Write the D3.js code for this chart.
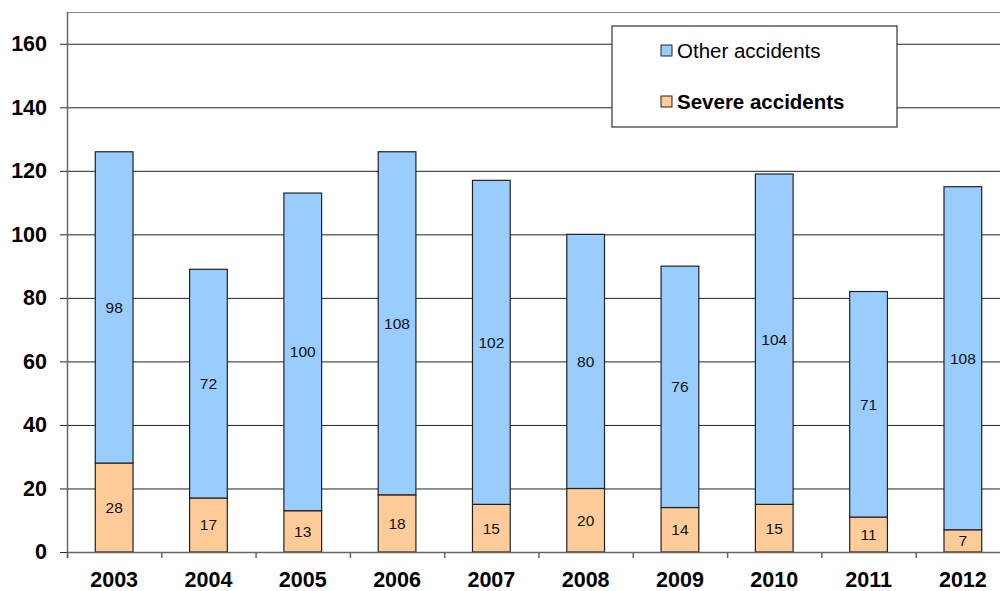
<!DOCTYPE html>
<html>
<head>
<meta charset="utf-8">
<script src="https://cdn.jsdelivr.net/npm/d3@7"></script>
<style>
  body { margin: 0; background: #fff; }
  svg { display: block; font-family: "Liberation Sans", Arial, sans-serif; }
</style>
</head>
<body>
<div id="chart"></div>
<script>
const years = ["2003", "2004", "2005", "2006", "2007", "2008", "2009", "2010", "2011", "2012"];
const severe = [28, 17, 13, 18, 15, 20, 14, 15, 11, 7];
const other = [98, 72, 100, 108, 102, 80, 76, 104, 71, 108];
const yTicks = [0, 20, 40, 60, 80, 100, 120, 140, 160];

const svgWidth = 1000, svgHeight = 591;
const margins = {left: 67, top: 12, right: -10, bottom: 39};
const width = svgWidth - margins.left - margins.right,
    height = svgHeight - margins.top - margins.bottom;

const svg = d3.select("#chart").append("svg")
    .attr("width", svgWidth)
    .attr("height", svgHeight);

const g = svg.append("g")
    .attr("transform", `translate(${margins.left}, ${margins.top})`);

const x = d3.scaleBand().domain(years).range([0, width]).paddingInner(0.6).paddingOuter(0.3);
const y = d3.scaleLinear().domain([0, 170]).range([height, 0]);

// top border of plot
g.append("line")
    .attr("x1", 0).attr("x2", width)
    .attr("y1", 0.5).attr("y2", 0.5)
    .attr("stroke", "#888").attr("stroke-width", 1);

// gridlines + y axis
const yAxis = g.append("g")
    .call(d3.axisLeft(y).tickValues(yTicks).tickSize(-width - 7).tickPadding(20).tickFormat(d3.format("d")));
yAxis.select(".domain").remove();
yAxis.selectAll(".tick line")
    .attr("x1", -7)
    .attr("stroke", "#222");
yAxis.selectAll(".tick text")
    .attr("font-size", 21.5).attr("font-weight", "bold").attr("fill", "#000")
    .attr("font-family", "Liberation Sans, Arial, sans-serif");

g.append("line")
    .attr("x1", 0.5).attr("x2", 0.5)
    .attr("y1", 0).attr("y2", height + 6)
    .attr("stroke", "#666").attr("stroke-width", 1.5);

// bars
const bars = g.selectAll(".year")
    .data(years)
    .enter().append("g")
    .attr("class", "year")
    .attr("transform", d => `translate(${x(d)}, 0)`);

bars.append("rect")
    .attr("y", (d, i) => y(severe[i]))
    .attr("height", (d, i) => y(0) - y(severe[i]))
    .attr("width", x.bandwidth())
    .attr("fill", "#FFCC99").attr("stroke", "#222").attr("stroke-width", 1.2);

bars.append("rect")
    .attr("y", (d, i) => y(severe[i] + other[i]))
    .attr("height", (d, i) => y(severe[i]) - y(severe[i] + other[i]))
    .attr("width", x.bandwidth())
    .attr("fill", "#99CCFF").attr("stroke", "#222").attr("stroke-width", 1.2);

bars.append("text")
    .attr("x", x.bandwidth() / 2)
    .attr("y", (d, i) => y(severe[i] / 2))
    .attr("dy", "0.35em")
    .attr("text-anchor", "middle")
    .attr("font-size", 15.5).attr("fill", "#111")
    .text((d, i) => severe[i]);

bars.append("text")
    .attr("x", x.bandwidth() / 2)
    .attr("y", (d, i) => y(severe[i] + other[i] / 2))
    .attr("dy", "0.35em")
    .attr("text-anchor", "middle")
    .attr("font-size", 15.5).attr("fill", "#111")
    .text((d, i) => other[i]);

// x axis
const step = x.step();
const xAxis = g.append("g").attr("transform", `translate(0, ${height})`);
xAxis.append("line")
    .attr("x1", 0).attr("x2", width)
    .attr("y1", 0.5).attr("y2", 0.5)
    .attr("stroke", "#666").attr("stroke-width", 1.5);
xAxis.selectAll(".tk")
    .data(d3.range(years.length + 1))
    .enter().append("line")
    .attr("x1", i => i * step + 0.5).attr("x2", i => i * step + 0.5)
    .attr("y1", 0).attr("y2", 6)
    .attr("stroke", "#666").attr("stroke-width", 1.5);
xAxis.selectAll(".lbl")
    .data(years)
    .enter().append("text")
    .attr("x", d => x(d) + x.bandwidth() / 2)
    .attr("y", 35)
    .attr("text-anchor", "middle")
    .attr("font-size", 21.5).attr("font-weight", "bold").attr("fill", "#000")
    .text(d => d);

// legend
const legend = svg.append("g").attr("transform", "translate(612, 26)");
legend.append("rect")
    .attr("width", 285).attr("height", 101)
    .attr("fill", "#fff").attr("stroke", "#333").attr("stroke-width", 1.2);
const legendItems = [
    {label: "Other accidents", color: "#99CCFF", bold: false, y: 25},
    {label: "Severe accidents", color: "#FFCC99", bold: true, y: 76}
];
legendItems.forEach(it => {
    legend.append("rect")
        .attr("x", 49).attr("y", it.y - 6)
        .attr("width", 11).attr("height", 11)
        .attr("fill", it.color).attr("stroke", "#222");
    legend.append("text")
        .attr("x", 65).attr("y", it.y)
        .attr("dy", "0.35em")
        .attr("font-size", 20.5)
        .attr("font-weight", it.bold ? "bold" : "normal")
        .attr("fill", "#000")
        .text(it.label);
});
</script>
</body>
</html>
